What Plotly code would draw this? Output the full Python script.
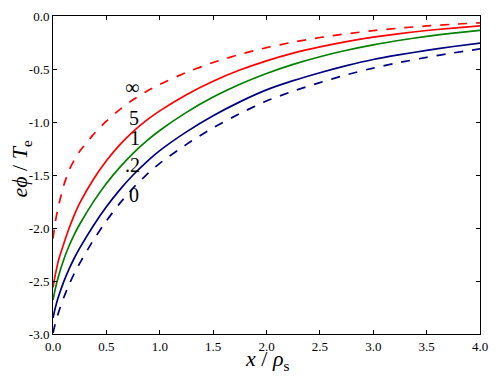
import plotly.graph_objects as go

# x positions (x / rho_s)
x_vals = [0.0, 0.02, 0.05, 0.1, 0.15, 0.2, 0.25, 0.375, 0.5, 0.625, 0.75, 0.875,
          1.0, 1.25, 1.5, 1.75, 2.0, 2.25, 2.5, 2.75, 3.0, 3.25, 3.5, 3.75, 4.0]

# e*phi / T_e for each ion temperature ratio
phi_inf = [-2.10, -1.95, -1.80, -1.60, -1.457, -1.357, -1.277, -1.121, -0.992,
           -0.883, -0.79, -0.712, -0.645, -0.532, -0.439, -0.362, -0.299, -0.246,
           -0.203, -0.168, -0.138, -0.114, -0.094, -0.078, -0.064]
phi_5 = [-2.56, -2.45, -2.31, -2.15, -2.005, -1.876, -1.766, -1.547, -1.366,
         -1.216, -1.091, -0.985, -0.895, -0.742, -0.615, -0.51, -0.423, -0.35,
         -0.291, -0.241, -0.20, -0.166, -0.137, -0.114, -0.094]
phi_1 = [-2.68, -2.58, -2.46, -2.30, -2.17, -2.06, -1.965, -1.758, -1.58,
         -1.428, -1.295, -1.18, -1.08, -0.909, -0.765, -0.644, -0.542, -0.456,
         -0.384, -0.323, -0.272, -0.229, -0.192, -0.162, -0.136]
phi_02 = [-2.85, -2.76, -2.652, -2.508, -2.388, -2.283, -2.19, -1.983, -1.80,
          -1.64, -1.50, -1.378, -1.27, -1.093, -0.941, -0.81, -0.697, -0.61,
          -0.535, -0.468, -0.41, -0.365, -0.324, -0.288, -0.256]
phi_0 = [-2.99, -2.908, -2.803, -2.658, -2.535, -2.428, -2.333, -2.12, -1.933,
         -1.768, -1.624, -1.499, -1.39, -1.211, -1.055, -0.92, -0.802, -0.709,
         -0.628, -0.555, -0.491, -0.438, -0.39, -0.348, -0.31]

curve_labels = ["∞", "5", "1", ".2", "0"]
label_x = [0.74, 0.755, 0.77, 0.74, 0.755]
label_y = [-0.667, -0.965, -1.154, -1.406, -1.689]

x_ticks = [0.0, 0.5, 1.0, 1.5, 2.0, 2.5, 3.0, 3.5, 4.0]
y_ticks = [0.0, -0.5, -1.0, -1.5, -2.0, -2.5, -3.0]

SERIF = "Liberation Serif, DejaVu Serif, serif"

series = [
    (phi_inf, "red", "dash"),
    (phi_5, "red", "solid"),
    (phi_1, "green", "solid"),
    (phi_02, "#000080", "solid"),
    (phi_0, "#000080", "dash"),
]

fig = go.Figure()
for ys, col, dash in series:
    fig.add_trace(go.Scatter(
        x=x_vals, y=ys, mode="lines",
        line=dict(color=col, width=1.7, dash=dash, shape="spline", smoothing=0.6),
        showlegend=False,
    ))

for txt, lx, ly in zip(curve_labels, label_x, label_y):
    fig.add_annotation(x=lx, y=ly, text=txt, showarrow=False,
                       font=dict(family=SERIF, size=20, color="black"))

# axis titles as annotations so the plot area stays fixed
fig.add_annotation(xref="paper", yref="paper", x=0.5, y=-0.082,
                   text="<i>x</i> / <i>ρ</i><sub>s</sub>", showarrow=False,
                   xanchor="center", yanchor="middle",
                   font=dict(family=SERIF, size=22, color="black"))
fig.add_annotation(xref="paper", yref="paper", x=-0.075, y=0.52,
                   text="<i>eϕ</i> / <i>T</i><sub>e</sub>", showarrow=False,
                   textangle=-90, xanchor="center", yanchor="middle",
                   font=dict(family=SERIF, size=22, color="black"))

axis_common = dict(
    showgrid=False, zeroline=False, automargin=False,
    showline=True, linecolor="black", linewidth=1,
    mirror="ticks", ticks="inside", ticklen=4, tickcolor="black",
    tickfont=dict(family=SERIF, size=13, color="black"),
)

fig.update_xaxes(range=[0, 4], tickvals=x_ticks,
                 ticktext=[f"{v:.1f}" for v in x_ticks], **axis_common)
fig.update_yaxes(range=[-3, 0], tickvals=y_ticks,
                 ticktext=[f"{v:.1f}" for v in y_ticks], **axis_common)

# page body adds an 8px margin, so the figure is sized to fit the window
fig.update_layout(
    width=491, height=372,
    margin=dict(l=45, r=19, t=8, b=46),
    paper_bgcolor="white", plot_bgcolor="white",
)

fig.write_html("out.html")
